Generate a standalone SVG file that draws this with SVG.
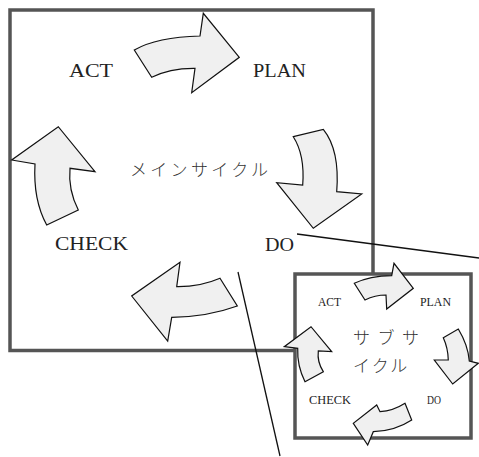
<svg xmlns="http://www.w3.org/2000/svg" width="479" height="457" viewBox="0 0 479 457">
<style>
.frame{fill:none;stroke:#555;stroke-width:3.5}
.arr{fill:#f0f0f0;stroke:#111;stroke-width:1.2;stroke-linejoin:miter}
.conn{stroke:#111;stroke-width:1.3;fill:none}
.lbl{font-family:"Liberation Serif","DejaVu Serif",serif;fill:#222}
.big{font-size:18px}
.small{font-size:11.5px}
.jp{font-family:"Noto Sans CJK JP","Noto Sans CJK SC",sans-serif;fill:#333;font-weight:300}
</style>
<rect width="479" height="457" fill="#fff"/>
<g id="main-frame">
<path class="frame" d="M295,350.5 L10,350.5 L10,10 L373,10 L373,274"/>
</g>
<g id="sub-frame">
<rect class="frame" x="295" y="274" width="176" height="164"/>
</g>
<g id="connectors">
<line class="conn" x1="297" y1="234" x2="479" y2="258"/>
<line class="conn" x1="238" y1="272" x2="280" y2="456"/>
</g>
<g id="main-arrows">
<path id="arrow-act-plan" class="arr" d="M134.3,50 Q157,37 200,36 L203.3,13.3 L239.3,57.3 L191.7,92.7 L195,68.3 Q170,68 151.7,77.3 Z"/>
<path id="arrow-plan-do" class="arr" d="M293.3,136.7 L323.3,129.3 Q340,150 336.7,191.7 L361.7,194 L313.3,228.3 L276.7,182.7 L302.7,185 Q305,155 293.3,136.7 Z"/>
<path id="arrow-do-check" class="arr" d="M220,278.3 L237.3,306 Q207,317 171.7,317.3 L167.7,341 L131.7,296 L180,262.3 L176.7,286.7 Q200,287 220,278.3 Z"/>
<path id="arrow-check-act" class="arr" d="M46.7,225 L78.3,210 Q68,190 70,168.3 L95,171.7 L58.3,126.7 L11.7,160 L35,164 Q33,200 46.7,225 Z"/>
</g>
<g id="sub-arrows">
<path id="sub-arrow-act-plan" class="arr" d="M354.3,283.3 Q370,276 391.7,275.7 L394,263.3 L413.3,288.3 L386.7,309 L386,295 Q375,295 365,300 Z"/>
<path id="sub-arrow-plan-do" class="arr" d="M443.3,337.7 L458.3,329 Q468,345 469.3,361 L478.3,363.3 L452.7,384 L434.3,360 L448.3,360 Q448,348 443.3,337.7 Z"/>
<path id="sub-arrow-do-check" class="arr" d="M405,403.3 L411.7,420 Q395,431 373.3,431.7 L367.7,445 L353.3,423.3 L376.7,405 L380,411.7 Q393,411 405,403.3 Z"/>
<path id="sub-arrow-check-act" class="arr" d="M305,381.7 L323.3,371.7 Q317,362 318.3,351 L331.7,351.7 L311,326.7 L284.3,346.7 L297.7,348.3 Q297,366 305,381.7 Z"/>
</g>
<g id="node-act"><text class="lbl big" x="69" y="77" textLength="44" lengthAdjust="spacingAndGlyphs">ACT</text></g>
<g id="node-plan"><text class="lbl big" x="253" y="77" textLength="53" lengthAdjust="spacingAndGlyphs">PLAN</text></g>
<g id="node-check"><text class="lbl big" x="55" y="250" textLength="73" lengthAdjust="spacingAndGlyphs">CHECK</text></g>
<g id="node-do"><text class="lbl big" x="265" y="251" textLength="29" lengthAdjust="spacingAndGlyphs">DO</text></g>
<g id="node-main"><text class="jp" x="130" y="176" font-size="17" textLength="138" lengthAdjust="spacing">メインサイクル</text></g>
<g id="sub-act"><text class="lbl small" x="318" y="306" textLength="23" lengthAdjust="spacingAndGlyphs">ACT</text></g>
<g id="sub-plan"><text class="lbl small" x="420" y="306" textLength="31" lengthAdjust="spacingAndGlyphs">PLAN</text></g>
<g id="sub-check"><text class="lbl small" x="309" y="404" textLength="42" lengthAdjust="spacingAndGlyphs">CHECK</text></g>
<g id="sub-do"><text class="lbl small" x="427" y="404" textLength="14" lengthAdjust="spacingAndGlyphs">DO</text></g>
<g id="node-sub">
<text class="jp" x="353" y="344" font-size="17" letter-spacing="7.5">サブサ</text>
<text class="jp" x="353" y="372" font-size="17" letter-spacing="2">イクル</text>
</g>
</svg>
